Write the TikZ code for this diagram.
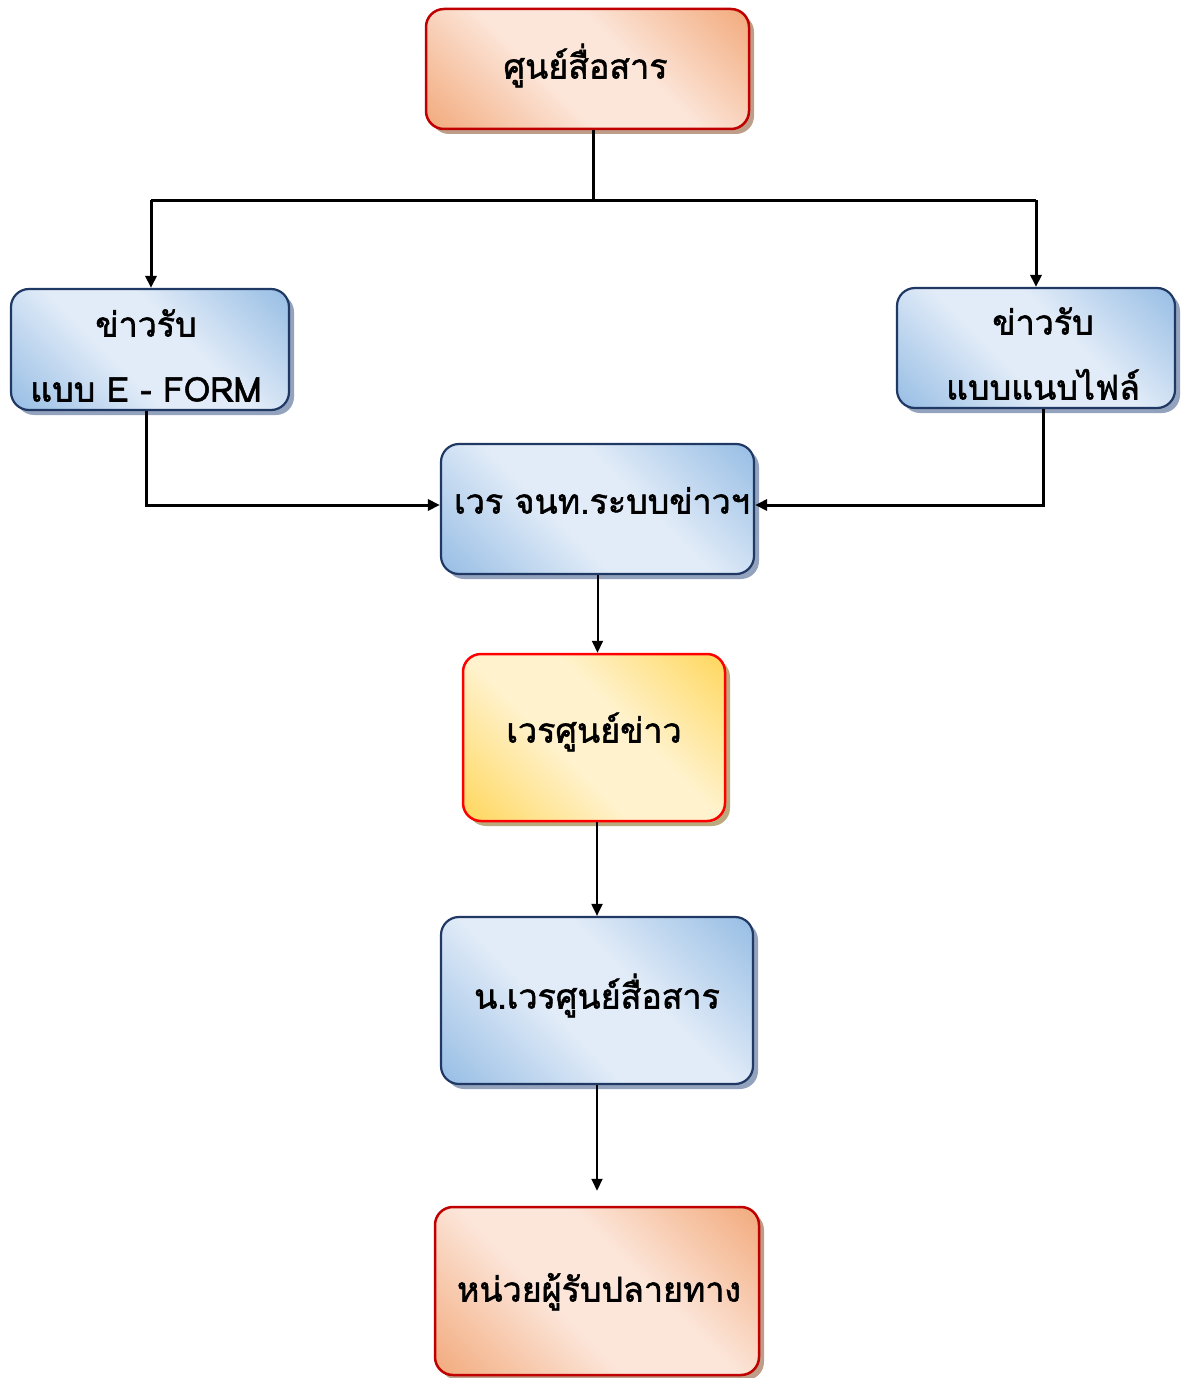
\documentclass[tikz,border=0pt]{standalone}
\usepackage{fontspec}
\newfontfamily\thaifont[Script=Thai,FakeBold=1.6]{Loma}
\usetikzlibrary{arrows.meta,shadows}
\definecolor{pkD}{HTML}{F3AF84}
\definecolor{pkL}{HTML}{FCE6DA}
\definecolor{blD}{HTML}{9DC1E6}
\definecolor{blL}{HTML}{E2ECF8}
\definecolor{ylD}{HTML}{FFD966}
\definecolor{ylL}{HTML}{FFF2CC}
\definecolor{redB}{HTML}{C00000}
\definecolor{navyB}{HTML}{1F3864}
\definecolor{pkS}{HTML}{BE9E88}
\definecolor{blS}{HTML}{94A3BD}
\definecolor{ylS}{HTML}{BBAA7E}
\pgfdeclarehorizontalshading{peachdiag}{100bp}{color(0bp)=(pkD); color(17bp)=(pkD); color(42bp)=(pkL); color(58bp)=(pkL); color(83bp)=(pkD); color(100bp)=(pkD)}
\pgfdeclarehorizontalshading{bluediag}{100bp}{color(0bp)=(blD); color(17bp)=(blD); color(42bp)=(blL); color(58bp)=(blL); color(83bp)=(blD); color(100bp)=(blD)}
\pgfdeclarehorizontalshading{yellowdiag}{100bp}{color(0bp)=(ylD); color(17bp)=(ylD); color(42bp)=(ylL); color(58bp)=(ylL); color(83bp)=(ylD); color(100bp)=(ylD)}
\tikzset{
  box/.style={rounded corners=18pt, inner sep=0pt, align=center,
    font=\thaifont\fontsize{34}{40}\selectfont, text=black},
  peachbox/.style={box, draw=redB, line width=2.5pt, shading=peachdiag, shading angle=45,
    drop shadow={shadow xshift=5pt, shadow yshift=-5pt, fill=pkS, opacity=1}},
  bluebox/.style={box, draw=navyB, line width=2.2pt, shading=bluediag, shading angle=45,
    drop shadow={shadow xshift=5pt, shadow yshift=-5pt, fill=blS, opacity=1}},
  yellowbox/.style={box, draw=red, line width=2.5pt, shading=yellowdiag, shading angle=45,
    drop shadow={shadow xshift=5pt, shadow yshift=-5pt, fill=ylS, opacity=1}},
  bar/.style={line width=3pt, black},
  arr/.style={line width=2pt, black, -{Triangle[length=12pt,width=11pt]}},
  arrthick/.style={line width=3pt, black, -{Triangle[length=12pt,width=11pt]}},
}
% #1 raise, #2 horizontal shift, #3 text
\newcommand\ctext[3]{\raisebox{#1}[0pt][0pt]{\makebox[0pt]{\hspace*{#2}#3}}}
\begin{document}
\begin{tikzpicture}[x=1pt,y=-1pt]
\useasboundingbox (0,0) rectangle (1181,1378);
\node[peachbox, minimum width=323pt, minimum height=120pt] (top) at (587.5,69) {\ctext{-9.5pt}{-4pt}{ศูนย์สื่อสาร}};
\node[bluebox, minimum width=278pt, minimum height=121pt] (left) at (150,349.5) {\ctext{13pt}{-8pt}{ข่าวรับ}\ctext{-52pt}{-8pt}{แบบ E - FORM}};
\node[bluebox, minimum width=278pt, minimum height=120pt] (right) at (1036,348) {\ctext{13.5pt}{14pt}{ข่าวรับ}\ctext{-51.5pt}{14pt}{แบบแนบไฟล์}};
\node[bluebox, minimum width=313pt, minimum height=130pt] (mid) at (597.5,509) {\ctext{-4.5pt}{9pt}{เวร จนท.ระบบข่าวฯ}};
\node[yellowbox, minimum width=262pt, minimum height=167pt] (duty) at (594,737.5) {\ctext{-5pt}{0pt}{เวรศูนย์ข่าว}};
\node[bluebox, minimum width=312pt, minimum height=167pt] (chief) at (597,1000.5) {\ctext{-8pt}{0pt}{น.เวรศูนย์สื่อสาร}};
\node[peachbox, minimum width=324pt, minimum height=168pt] (dest) at (597,1291) {\ctext{-10.5pt}{4pt}{หน่วยผู้รับปลายทาง}};
\coordinate (jl) at (151,200);
\coordinate (jr) at (1036,200);
\draw[bar] ([xshift=6pt]top.south) -- ([xshift=6pt]top.south |- jl);
\draw[bar] (jl) -- (jr);
\draw[arrthick] (jl) -- (jl |- left.north);
\draw[arrthick] (jr) -- (jr |- right.north);
\draw[arrthick] ([xshift=-4pt]left.south) |- ([yshift=4pt]mid.west);
\draw[arrthick] ([xshift=7pt]right.south) |- ([yshift=4pt]mid.east);
\draw[arr] (mid.south) -- (mid.south |- duty.north);
\draw[arr] (duty.south -| chief.north) -- (chief.north);
\draw[arr, shorten >=15pt] (chief.south) -- (dest.north);
\end{tikzpicture}
\end{document}
